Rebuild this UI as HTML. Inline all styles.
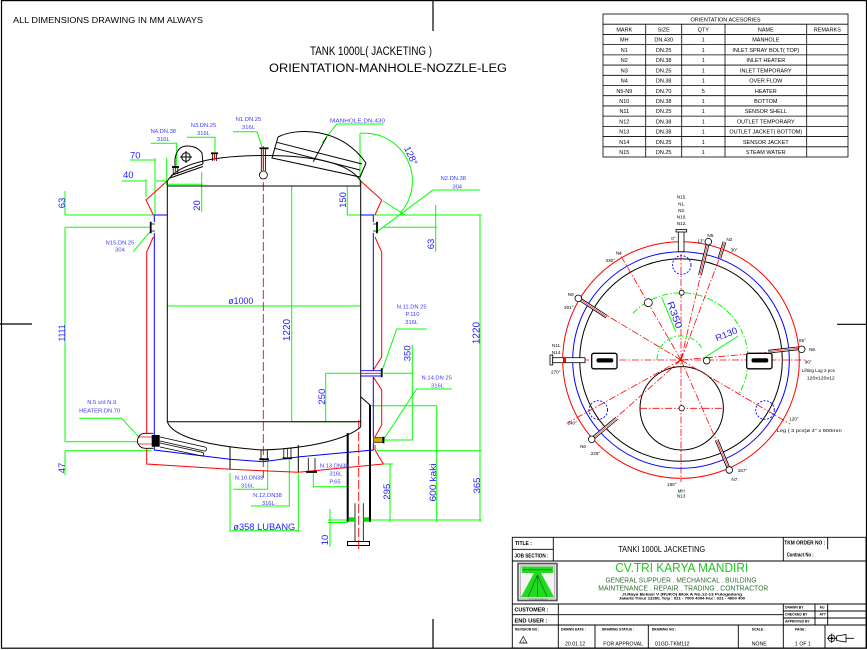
<!DOCTYPE html>
<html><head><meta charset="utf-8">
<style>
html,body{margin:0;padding:0;background:#fff;}
svg{display:block}
text{font-family:"Liberation Sans",Arial,sans-serif}
</style></head>
<body>
<svg width="867" height="650" viewBox="0 0 867 650" xmlns="http://www.w3.org/2000/svg">
<rect x="0" y="0" width="867" height="650" fill="#fff"/>
<!-- frame -->
<g stroke="#000" stroke-width="1.2" fill="none">
<rect x="1.5" y="0.6" width="865" height="647.6"/>
<line x1="433" y1="0" x2="433" y2="31"/>
<line x1="0" y1="324" x2="32" y2="324"/>
<line x1="837" y1="324.3" x2="867" y2="324.3"/>
<line x1="433" y1="619" x2="433" y2="648"/>
</g>

<!-- headings -->
<text x="13" y="23" font-size="8" textLength="190" lengthAdjust="spacingAndGlyphs">ALL DIMENSIONS DRAWING IN MM ALWAYS</text>
<text x="310" y="55" font-size="11.5" textLength="122" lengthAdjust="spacingAndGlyphs">TANK 1000L(  JACKETING )</text>
<text x="269" y="72" font-size="11.5" textLength="238" lengthAdjust="spacingAndGlyphs">ORIENTATION-MANHOLE-NOZZLE-LEG</text>

<!-- orientation table -->
<g stroke="#000" stroke-width="0.8" fill="none">
<rect x="603" y="14" width="245" height="143"/>
<line x1="603" y1="24.21" x2="848" y2="24.21"/>
<line x1="603" y1="34.43" x2="848" y2="34.43"/>
<line x1="603" y1="44.64" x2="848" y2="44.64"/>
<line x1="603" y1="54.86" x2="848" y2="54.86"/>
<line x1="603" y1="65.07" x2="848" y2="65.07"/>
<line x1="603" y1="75.29" x2="848" y2="75.29"/>
<line x1="603" y1="85.5" x2="848" y2="85.5"/>
<line x1="603" y1="95.71" x2="848" y2="95.71"/>
<line x1="603" y1="105.93" x2="848" y2="105.93"/>
<line x1="603" y1="116.14" x2="848" y2="116.14"/>
<line x1="603" y1="126.36" x2="848" y2="126.36"/>
<line x1="603" y1="136.57" x2="848" y2="136.57"/>
<line x1="603" y1="146.79" x2="848" y2="146.79"/>
<line x1="645.7" y1="24.21" x2="645.7" y2="157"/>
<line x1="681.7" y1="24.21" x2="681.7" y2="157"/>
<line x1="725" y1="24.21" x2="725" y2="157"/>
<line x1="806.7" y1="24.21" x2="806.7" y2="157"/>
</g>
<g font-size="5.5" text-anchor="middle" fill="#000">
<text x="725.5" y="21.3">ORIENTATION ACESORIES</text>
<text x="624.3" y="31.5">MARK</text><text x="663.7" y="31.5">SIZE</text><text x="703.3" y="31.5">QTY</text><text x="765.8" y="31.5">NAME</text><text x="827.3" y="31.5">REMARKS</text>
<text x="624.3" y="41.7">MH</text><text x="663.7" y="41.7">DN.430</text><text x="703.3" y="41.7">1</text><text x="765.8" y="41.7">MANHOLE</text>
<text x="624.3" y="51.9">N1</text><text x="663.7" y="51.9">DN.25</text><text x="703.3" y="51.9">1</text><text x="765.8" y="51.9">INLET SPRAY BOLT(  TOP)</text>
<text x="624.3" y="62.1">N2</text><text x="663.7" y="62.1">DN.38</text><text x="703.3" y="62.1">1</text><text x="765.8" y="62.1">INLET HEATER</text>
<text x="624.3" y="72.4">N3</text><text x="663.7" y="72.4">DN.25</text><text x="703.3" y="72.4">1</text><text x="765.8" y="72.4">INLET TEMPORARY</text>
<text x="624.3" y="82.6">N4</text><text x="663.7" y="82.6">DN.38</text><text x="703.3" y="82.6">1</text><text x="765.8" y="82.6">OVER FLOW</text>
<text x="624.3" y="92.8">N5-N9</text><text x="663.7" y="92.8">DN.70</text><text x="703.3" y="92.8">5</text><text x="765.8" y="92.8">HEATER</text>
<text x="624.3" y="103">N10</text><text x="663.7" y="103">DN.38</text><text x="703.3" y="103">1</text><text x="765.8" y="103">BOTTOM</text>
<text x="624.3" y="113.2">N11</text><text x="663.7" y="113.2">DN.25</text><text x="703.3" y="113.2">1</text><text x="765.8" y="113.2">SENSOR SHELL</text>
<text x="624.3" y="123.4">N12</text><text x="663.7" y="123.4">DN.38</text><text x="703.3" y="123.4">1</text><text x="765.8" y="123.4">OUTLET TEMPORARY</text>
<text x="624.3" y="133.7">N13</text><text x="663.7" y="133.7">DN.38</text><text x="703.3" y="133.7">1</text><text x="765.8" y="133.7">OUTLET JACKET(  BOTTOM)</text>
<text x="624.3" y="143.9">N14</text><text x="663.7" y="143.9">DN.25</text><text x="703.3" y="143.9">1</text><text x="765.8" y="143.9">SENSOR JACKET</text>
<text x="624.3" y="154.1">N15</text><text x="663.7" y="154.1">DN.25</text><text x="703.3" y="154.1">1</text><text x="765.8" y="154.1">STEAM WATER</text>
</g>

<!-- ================= TANK ELEVATION ================= -->
<!-- green dimension lines -->
<g stroke="#00ff00" stroke-width="1" fill="none">
<path d="M65,191 L65,215 M65,215 L167,215 M65,227.3 L150,227.3 M65,227.3 L65,441.7 M65,441.7 L140,441.7 M65,450.7 L151.7,450.7 M65,450.7 L65,475"/>
<path d="M130,160 L155,160 M155,158 L155,215 M166.7,158 L166.7,185"/>
<path d="M121.7,181 L146,181 M146,179 L146,197 M156,181 L166.7,181"/>
<path d="M168,184.3 L202.7,184.3 M201.7,171.7 L201.7,211.7"/>
<path d="M150.7,143.3 L176.7,143.3 L176.7,166.7"/>
<path d="M186.7,137.3 L215,137.3 L215,151.7"/>
<path d="M233,131.7 L257,131.7 L262,146.7"/>
<path d="M383.3,124 L336.7,124 L322,143"/>
<path d="M360,133.3 A48,48 0 0 1 400,213.3"/>
<path d="M360,133.3 L360,185 M383,201 L405,215"/>
<path d="M347.3,186 L347.3,215 M345,186 L361,186 M347,215 L481.7,215"/>
<path d="M480,190 L433,190 L377,231.7"/>
<path d="M383,227.3 L436.7,227.3 M435.7,205 L435.7,251.7"/>
<path d="M480,215 L480,521.7 M376.7,450.7 L481.7,450.7"/>
<path d="M167.3,306 L360.7,306"/>
<path d="M291.7,186 L291.7,421.7 M291.7,421.7 L360,421.7"/>
<path d="M325.7,373.3 L360,373.3 M325.7,373.3 L325.7,421.7"/>
<path d="M412.3,345 L412.3,440 M383.3,373.3 L412.3,373.3 M383.3,440 L412.3,440"/>
<path d="M426.7,329 L396.7,329 L381.7,371.7"/>
<path d="M451.7,389 L416.7,389 L383.3,440"/>
<path d="M370,405.7 L436.7,405.7 M436.7,405.7 L436.7,521.7"/>
<path d="M383,464 L393,464 M390,464 L390,521.7"/>
<path d="M370,520 L481.7,520 M328,520 L347.7,520 M328,522.5 L347.7,522.5"/>
<path d="M330,509 L330,546.7"/>
<path d="M233.3,489.3 L267.7,489.3 L267.7,460.7"/>
<path d="M251,506 L289.3,506 L289.3,460"/>
<path d="M347.7,486.7 L313.3,486.7 L313.3,473.3"/>
<path d="M230,473 L230,531.7 M298.3,473 L298.3,531.7 M230,530.7 L298.3,530.7"/>
<path d="M79.3,418.3 L121.7,418.3 L140,438.3"/>
<path d="M133.3,251.7 L150,231.7"/>
</g>

<!-- red center line -->
<line x1="263.3" y1="146" x2="263.3" y2="478" stroke="#ff0000" stroke-width="0.9" stroke-dasharray="9,3"/>
<line x1="358.7" y1="420" x2="358.7" y2="552" stroke="#ff0000" stroke-width="0.9" stroke-dasharray="9,3"/>

<!-- jacket red -->
<path d="M167.3,181 L146,200 L153.3,215 M153.3,237 L146.7,252 L146.7,433 M146.7,448 L146.7,464 L230,469.3 L298.3,472.3 L383.3,464 L375,450 L375,445 M375,437 L381.7,425 L381.7,390 L373.3,377 M373.3,370 L381.7,357 L381.7,252 L375,237 M375,215 L381.7,200 L360.7,181" stroke="#ff0000" stroke-width="1" fill="none"/>
<!-- jacket blue -->
<path d="M154.3,215 L167.3,215 M154.3,215 L154.3,222 M154.3,233 L154.3,450 L230,459.3 L263,461.7 L300,456.7 L373.3,450 L373.3,443 M373.3,437 L373.3,377 M373.3,370 L373.3,233 M373.3,222 L373.3,215 L360.7,215" stroke="#0000ff" stroke-width="1" fill="none"/>

<!-- shell black -->
<g stroke="#000" stroke-width="1" fill="none">
<path d="M167.3,181 L167.3,421.7 M360.7,181 L360.7,427 M167.3,186 L360.7,186 M167.3,421.7 L360.7,421.7"/>
<path d="M167.3,181 C180,161 220,155.5 264,155.5 C308,155.5 348,161 360.7,181"/>
<path d="M167.3,421.7 C172,436 205,446 263,450 C315,448 348,438 360.7,427"/>
<path d="M360.7,396.7 L370,405"/>
<path d="M230,447 L230,469 M298.3,445 L298.3,472"/>
<!-- manhole -->
<path d="M278,137 C295,128 340,126 366,163 M278,137 L272,158 L360,177 L366,163 M276.7,142.3 L362,164 M275,148.3 L360,170 M326.7,136.7 L313.3,161.7"/>
<!-- lug -->
<path d="M175,168 L175,159 Q177,146 187,146 Q197,146 202,153 L203,164"/>
<circle cx="186" cy="157" r="4.3"/>
<path d="M180,157 L192,157 M186,151 L186,163"/>
<path d="M170,178 L203,166.5 M171,175.5 L203,164"/>
</g>
<!-- top nozzles -->
<g stroke="#000" fill="none">
<path d="M259.5,148.3 L268.5,148.3" stroke-width="1.8"/>
<path d="M261.3,148.3 L261.3,171 M265.5,148.3 L265.5,171" stroke-width="0.8"/>
<circle cx="263.4" cy="175" r="4" stroke-width="0.8" fill="#fff"/>
<path d="M211,153.3 L218,153.3" stroke-width="1.8"/>
<path d="M212.5,153.3 L212.5,161 M216.5,153.3 L216.5,161" stroke-width="0.8"/>
<path d="M172,167 L179,167" stroke-width="1.8"/>
<path d="M173.2,167 L173.2,174 M177.8,167 L177.8,174" stroke-width="0.8"/>
</g>
<path d="M214.5,154 L214.5,160.5 M175.5,168 L175.5,173.5 M263.4,150 L263.4,170" stroke="#ff0000" stroke-width="1.2"/>
<!-- side nozzles -->
<g stroke="#000" fill="none">
<path d="M150.7,221.7 L150.7,233.3 M377,221.7 L377,233.3" stroke-width="1.8"/>
<path d="M150.7,224 L155,224 M150.7,231 L155,231 M373,224 L377,224 M373,231 L377,231" stroke-width="0.8"/>
<path d="M381.7,368.3 L381.7,377.3" stroke-width="1.8"/>
<path d="M383.5,436.7 L383.5,443.3" stroke-width="1.8"/>
</g>
<path d="M360.7,370.7 L381.7,370.7 M360.7,376 L381.7,376" stroke="#0000ff" stroke-width="0.9"/>
<path d="M360.7,373.3 L381.7,373.3" stroke="#ff0000" stroke-width="0.9"/>
<rect x="373.5" y="437.5" width="9" height="5" fill="#d9a400" stroke="#000" stroke-width="0.6"/>
<!-- heater -->
<path d="M153.3,433.3 L145,433.3 A7.5,7.5 0 0 0 145,448.3 L153.3,448.3" stroke="#000" stroke-width="0.9" fill="#fff"/>
<path d="M139,437 L153,437 M139,444 L153,444" stroke="#ff0000" stroke-width="0.8"/>
<rect x="151.7" y="435" width="8" height="11.7" fill="#000"/>
<g stroke="#000" stroke-width="0.8" fill="none">
<path d="M160,437 L205,447 A2,2 0 0 1 204,451 L160,441"/>
<path d="M160,443 L203,452.5 A2,2 0 0 1 202,456 L160,447"/>
</g>
<!-- bottom nozzles -->
<g stroke="#000" fill="none">
<path d="M261,450 L261,459.3 M267.3,450 L267.3,459.3 M283.8,448.3 L283.8,458.3 M291,448.3 L291,458.3 M308.3,458 L308.3,472 M315,458 L315,472" stroke-width="0.8"/>
<path d="M259.3,459.3 L269,459.3 M282.7,458.3 L292,458.3 M306,472 L317,472" stroke-width="1.8"/>
</g>
<path d="M287.5,449 L287.5,458" stroke="#ff0000" stroke-width="1"/>
<!-- leg -->
<g stroke="#000" fill="none">
<path d="M370,405 L370,521.7 M347.7,433 L347.7,521.7" stroke-width="2"/>
<path d="M355,503.3 L355,541.7 M363.3,503.3 L363.3,541.7" stroke-width="0.8"/>
<rect x="347.5" y="541.5" width="22" height="4" stroke-width="1"/>
</g>
<rect x="348.7" y="517.3" width="6.3" height="4.4" fill="#00dd00"/>
<rect x="363.3" y="517.3" width="5.7" height="4.4" fill="#00dd00"/>

<!-- dim texts -->
<g fill="#1f1fff" font-size="9.5">
<text transform="translate(65,203) rotate(-90)" text-anchor="middle">63</text>
<text transform="translate(65,333) rotate(-90)" text-anchor="middle" textLength="17" lengthAdjust="spacingAndGlyphs">1111</text>
<text transform="translate(65,468) rotate(-90)" text-anchor="middle">47</text>
<text x="130" y="158.3">70</text>
<text x="123" y="178">40</text>
<text transform="translate(200,205.5) rotate(-90)" text-anchor="middle">20</text>
<text transform="translate(346,200) rotate(-90)" text-anchor="middle">150</text>
<text transform="translate(434,244) rotate(-90)" text-anchor="middle">63</text>
<text transform="translate(290,330) rotate(-90)" text-anchor="middle" font-size="10">1220</text>
<text transform="translate(479.5,333) rotate(-90)" text-anchor="middle" font-size="10">1220</text>
<text transform="translate(325,396.7) rotate(-90)" text-anchor="middle">250</text>
<text transform="translate(410.7,353.3) rotate(-90)" text-anchor="middle">350</text>
<text transform="translate(436,482.5) rotate(-90)" text-anchor="middle" textLength="38" lengthAdjust="spacingAndGlyphs">600  kaki</text>
<text transform="translate(480,485.5) rotate(-90)" text-anchor="middle">365</text>
<text transform="translate(390,491.7) rotate(-90)" text-anchor="middle">295</text>
<text transform="translate(328,540) rotate(-90)" text-anchor="middle">10</text>
<text transform="translate(408,157) rotate(65)" text-anchor="middle">128°</text>
<text x="228.3" y="304" textLength="25" lengthAdjust="spacingAndGlyphs">ø1000</text>
<text x="233.3" y="530" textLength="62" lengthAdjust="spacingAndGlyphs">ø358  LUBANG</text>
</g>
<!-- nozzle labels -->
<g fill="#3a3aff" font-size="5.8" text-anchor="middle">
<text x="163.3" y="133">N4.DN.38</text><text x="163.3" y="141">316L</text>
<text x="203.5" y="127">N3.DN.25</text><text x="203.5" y="135">316L</text>
<text x="248.5" y="121">N1.DN.25</text><text x="248.5" y="129">316L</text>
<text x="357.5" y="122.7" textLength="55" lengthAdjust="spacingAndGlyphs">MANHOLE.DN.430</text>
<text x="453.3" y="180">N2.DN.38</text><text x="457.2" y="188.5">304</text>
<text x="120" y="244.3">N15.DN.25</text><text x="120" y="251.7">304</text>
<text x="411.7" y="308.5">N.11.DN 25</text><text x="412.5" y="316">P.110</text><text x="411.7" y="324">316L</text>
<text x="436.7" y="379.5">N.14.DN 25</text><text x="437.5" y="387.5">316L</text>
<text x="101.7" y="404">N.5 s/d N.9</text><text x="99.7" y="412.3">HEATER.DN.70</text>
<text x="249.2" y="479.3">N.10.DN38</text><text x="247.5" y="487.3">316L</text>
<text x="267.5" y="497">N.12.DN38</text><text x="268.3" y="505">316L</text>
<text x="334.2" y="467.3">N.13.DN38</text><text x="335.8" y="475.5">316L</text><text x="335" y="483.3">P.65</text>
</g>

<!-- ================= PLAN VIEW ================= -->
<g fill="none">
<circle cx="681" cy="360" r="118.3" stroke="#ff0000" stroke-width="1"/>
<circle cx="681" cy="360" r="108.3" stroke="#0000ff" stroke-width="1"/>
<circle cx="681" cy="360" r="101.3" stroke="#000" stroke-width="1"/>
<circle cx="681.7" cy="408.3" r="41.7" stroke="#000" stroke-width="1"/>
<path d="M633.1,313.1 A67,67 0 0 1 737.9,395.4" stroke="#00ff00" stroke-width="1" stroke-dasharray="6,2,1.5,2"/>
<path d="M657,360 A24,24 0 0 1 701.6,347.6" stroke="#00ff00" stroke-width="1" stroke-dasharray="6,2,1.5,2"/>
<path d="M661.7,297.3 L675.7,331.7 M703.3,358.3 L738.3,336" stroke="#00ff00" stroke-width="1"/>
<g stroke="#ff0000" stroke-width="0.8" stroke-dasharray="7,2,1.5,2">
<path d="M681,229 L681,482 M557,360 L805,360"/>
<path d="M681,360 L619.5,253.5 M681,360 L708.3,241.7 M681,360 L725,243.3 M681,360 L801.7,349.3 M681,360 L790,424 M681,360 L729.3,470 M681,360 L591.7,439.3 M681,360 L566.7,423.3 M681,360 L578.3,298.3"/>
<path d="M640,408.3 L723.3,408.3"/>
</g>
<g stroke="#0000ff" stroke-width="0.9" stroke-dasharray="2,1.5">
<circle cx="681.7" cy="265" r="9.3"/>
<circle cx="598.3" cy="410" r="9.3"/>
<circle cx="765" cy="410" r="9.3"/>
</g>
<g stroke="#000" stroke-width="0.8" fill="#fff">
<circle cx="681.7" cy="292.7" r="2.5"/>
<circle cx="648.3" cy="302.7" r="4"/>
<circle cx="706.7" cy="360.7" r="3.3"/>
<circle cx="681.7" cy="408.3" r="2.7"/>
</g>
<!-- rods -->
<g stroke-linecap="butt">
<path d="M708.3,241.7 L700,275 M724.5,242 L719.5,258 M578.3,298.3 L606.7,316.7 M591.7,439.3 L616.7,418.3 M729.3,470 L716.7,440 M798.3,348.3 L768.3,351.7" stroke="#000" stroke-width="3.6"/>
<path d="M708.3,241.7 L700,275 M724.5,242 L719.5,258 M578.3,298.3 L606.7,316.7 M591.7,439.3 L616.7,418.3 M729.3,470 L716.7,440 M798.3,348.3 L768.3,351.7" stroke="#fff" stroke-width="2"/>
<path d="M708.3,241.7 L700,275 M724.5,242 L719.5,258 M578.3,298.3 L606.7,316.7 M591.7,439.3 L616.7,418.3 M729.3,470 L716.7,440 M798.3,348.3 L768.3,351.7" stroke="#ff0000" stroke-width="0.6"/>
</g>
<g stroke="#000" stroke-width="0.8" fill="#fff">
<circle cx="708.3" cy="241.7" r="3.3"/>
<circle cx="578.3" cy="298.3" r="3.3"/>
<circle cx="591.7" cy="439.3" r="3.3"/>
<circle cx="729.3" cy="470" r="3.3"/>
<circle cx="801.7" cy="349.3" r="3.3"/>
<rect x="678.3" y="231.7" width="5.7" height="20"/>
<rect x="676" y="229.5" width="10.7" height="2.5"/>
<rect x="550" y="355" width="2.7" height="10"/>
<rect x="552.7" y="357.7" width="32.3" height="5"/>
</g>
<rect x="563" y="357.7" width="3" height="5" fill="#ff0000"/>
<!-- lifting lugs -->
<rect x="591.7" y="353.3" width="25.3" height="15.5" rx="2" stroke="#000" stroke-width="1.3" fill="#fff"/>
<rect x="596.5" y="358.3" width="16.8" height="4.2" rx="2" fill="#000"/>
<rect x="746.7" y="353.3" width="25.3" height="15.5" rx="2" stroke="#000" stroke-width="1.3" fill="#fff"/>
<rect x="751.5" y="358.3" width="16.8" height="4.2" rx="2" fill="#000"/>
</g>
<g fill="#1f1fff">
<text transform="translate(671.7,316) rotate(70.5)" text-anchor="middle" font-size="9.5" textLength="28" lengthAdjust="spacingAndGlyphs">R350</text>
<text transform="translate(727.5,337) rotate(-22.6)" text-anchor="middle" font-size="9" textLength="23" lengthAdjust="spacingAndGlyphs">R130</text>
</g>
<g fill="#000" font-size="4.6" text-anchor="middle">
<text x="681.7" y="198.5">N15.</text>
<text x="681.7" y="205.5">N1.</text>
<text x="681.7" y="212">N3.</text>
<text x="681.7" y="218.5">N10.</text>
<text x="681.7" y="225">N12.</text>
<text x="673.5" y="240">0°</text>
<text x="711" y="237">N5.</text>
<text x="700.8" y="242.5">13°</text>
<text x="729.3" y="241">N2</text>
<text x="734.2" y="251.5">30°</text>
<text x="618.8" y="254.5">N4</text>
<text x="610.3" y="262">330°</text>
<text x="570.7" y="296">N9</text>
<text x="568.8" y="309">301°</text>
<text x="556.7" y="347">N11.</text>
<text x="556.7" y="354">N14.</text>
<text x="555.8" y="373.5">270°</text>
<text x="802.5" y="342">85°</text>
<text x="812.7" y="351">N8.</text>
<text x="808.3" y="363.5">90°</text>
<text x="818.3" y="372" textLength="33" lengthAdjust="spacingAndGlyphs">Lifting Lug 2 pcs</text>
<text x="820.8" y="379.5" textLength="28" lengthAdjust="spacingAndGlyphs">120x120x12</text>
<text x="572.2" y="424.5">240°</text>
<text x="583" y="448">N6</text>
<text x="595.5" y="455">229°</text>
<text x="794" y="420.5">120°</text>
<text x="809.2" y="432" textLength="65" lengthAdjust="spacingAndGlyphs">Leg ( 3 pcs)ø   4" x 600mm</text>
<text x="742.5" y="472">157°</text>
<text x="735" y="481">N7.</text>
<text x="671.8" y="486">180°</text>
<text x="681.2" y="492.5">MH</text>
<text x="681.2" y="497.5">N13</text>
</g>

<!-- ================= TITLE BLOCK ================= -->
<g stroke="#000" stroke-width="0.9" fill="none">
<rect x="512.3" y="537.3" width="353.7" height="110.7"/>
<line x1="512.3" y1="549.3" x2="553.3" y2="549.3"/>
<line x1="512.3" y1="561" x2="866" y2="561"/>
<line x1="553.3" y1="537.3" x2="553.3" y2="561"/>
<line x1="783.3" y1="537.3" x2="783.3" y2="561"/>
<line x1="827.7" y1="537.3" x2="827.7" y2="549.3"/>
<line x1="512.3" y1="604" x2="866" y2="604"/>
<line x1="512.3" y1="614.7" x2="783.3" y2="614.7"/>
<line x1="512.3" y1="625" x2="866" y2="625"/>
<line x1="558.3" y1="604" x2="558.3" y2="648"/>
<line x1="783.3" y1="604" x2="783.3" y2="648"/>
<line x1="815" y1="604" x2="815" y2="625"/>
<line x1="827.7" y1="604" x2="827.7" y2="625"/>
<line x1="783.3" y1="611" x2="866" y2="611"/>
<line x1="783.3" y1="618" x2="866" y2="618"/>
<line x1="595" y1="625" x2="595" y2="648"/>
<line x1="648.3" y1="625" x2="648.3" y2="648"/>
<line x1="738.3" y1="625" x2="738.3" y2="648"/>
<line x1="825" y1="625" x2="825" y2="648"/>
</g>
<g font-weight="bold" fill="#000">
<text x="515" y="545" font-size="5">TITLE :</text>
<text x="514.5" y="557.5" font-size="5" textLength="34" lengthAdjust="spacingAndGlyphs">JOB SECTION :</text>
<text x="784.3" y="544.5" font-size="5" textLength="41" lengthAdjust="spacingAndGlyphs">TKM ORDER NO :</text>
<text x="786.7" y="556.5" font-size="5" textLength="27" lengthAdjust="spacingAndGlyphs">Contract No :</text>
<text x="514.5" y="611.5" font-size="5.8" textLength="34" lengthAdjust="spacingAndGlyphs">CUSTOMER :</text>
<text x="514.5" y="622.5" font-size="5.8" textLength="33" lengthAdjust="spacingAndGlyphs">END USER :</text>
</g>
<text x="661.7" y="552" font-size="8.3" text-anchor="middle" textLength="87" lengthAdjust="spacingAndGlyphs">TANKI 1000L JACKETING</text>
<text x="681.7" y="572" font-size="13" fill="#1ec81e" text-anchor="middle" textLength="133" lengthAdjust="spacingAndGlyphs">CV.TRI KARYA MANDIRI</text>
<text x="681" y="582.3" font-size="7.3" fill="#2f6f2f" text-anchor="middle" textLength="151" lengthAdjust="spacingAndGlyphs">GENERAL SUPPUER . MECHANICAL . BUILDING</text>
<text x="683.3" y="590.3" font-size="7.3" fill="#2f6f2f" text-anchor="middle" textLength="170" lengthAdjust="spacingAndGlyphs">MAINTENANCE . REPAIR . TRADING . CONTRACTOR</text>
<text x="682" y="595.7" font-size="3.2" font-weight="bold" text-anchor="middle" textLength="120" lengthAdjust="spacingAndGlyphs">Jl.Raya Bekasi V (RUKO) Blok A No.12-13 Pulogadung</text>
<text x="682" y="599.3" font-size="3.2" font-weight="bold" text-anchor="middle" textLength="126" lengthAdjust="spacingAndGlyphs">Jakarta Timur 13260, Telp : 021 - 7000 4004 Fax : 021 - 4600 400</text>
<g font-size="3.4" font-weight="bold" fill="#000">
<text x="785" y="608.5">DRAWN BY</text><text x="819.5" y="608.5">AU</text>
<text x="785" y="615.5">CHECKED BY</text><text x="819.5" y="615.5">AYT</text>
<text x="785" y="622.5">APPROVED BY</text>
<text x="515" y="630.5">REVISION NO :</text>
<text x="561" y="630.5">DRAWN DATE :</text>
<text x="601.7" y="630.5">DRAWING STATUS :</text>
<text x="651.7" y="630.5">DRAWING NO :</text>
<text x="751.7" y="630.5">SCALE :</text>
<text x="795" y="630.5">PAGE :</text>
</g>
<g font-size="5.2" fill="#000">
<text x="565" y="645.5">20.01.12</text>
<text x="603.3" y="645.5">FOR APPROVAL</text>
<text x="655" y="645.5">01GD-TKM112</text>
<text x="751.7" y="645.5">NONE</text>
<text x="795" y="645.5">1 OF 1</text>
</g>
<path d="M523.3,636.5 L527,643 L519.6,643 Z" stroke="#000" stroke-width="0.7" fill="none"/>
<text x="523.3" y="642.3" font-size="3.5" text-anchor="middle">1</text>
<g stroke="#000" stroke-width="0.8" fill="none">
<circle cx="831.7" cy="638.3" r="3.3"/>
<path d="M827,638.3 L836.5,638.3 M831.7,633.5 L831.7,643"/>
<path d="M836.7,636 L846,634.5 L846,642 L836.7,640.5 Z M846,638.3 L854,638.3"/>
</g>
<circle cx="831.7" cy="638.3" r="1.2" fill="#000"/>
<!-- logo -->
<rect x="518" y="563.5" width="39" height="37" fill="#e6e6e6" stroke="#555" stroke-width="1.6"/>
<rect x="520.5" y="566" width="34" height="32" fill="#f4f4f4" stroke="#999" stroke-width="0.6"/>
<rect x="521.7" y="566.7" width="31.6" height="6.3" fill="#1fdc1f"/>
<polygon points="534,573 541,573 554,597 521,597" fill="#1fdc1f"/>
<g stroke="#2a5a2a" stroke-width="0.7">
<path d="M537.5,575 L528,597 M537.5,575 L537.5,597 M537.5,575 L547,597 M523,569.8 L552,569.8"/>
</g>
<text x="537.5" y="600" font-size="1.8" text-anchor="middle" fill="#2a8a2a">CV.TRI KARYA MANDIRI</text>
</svg>
</body></html>
